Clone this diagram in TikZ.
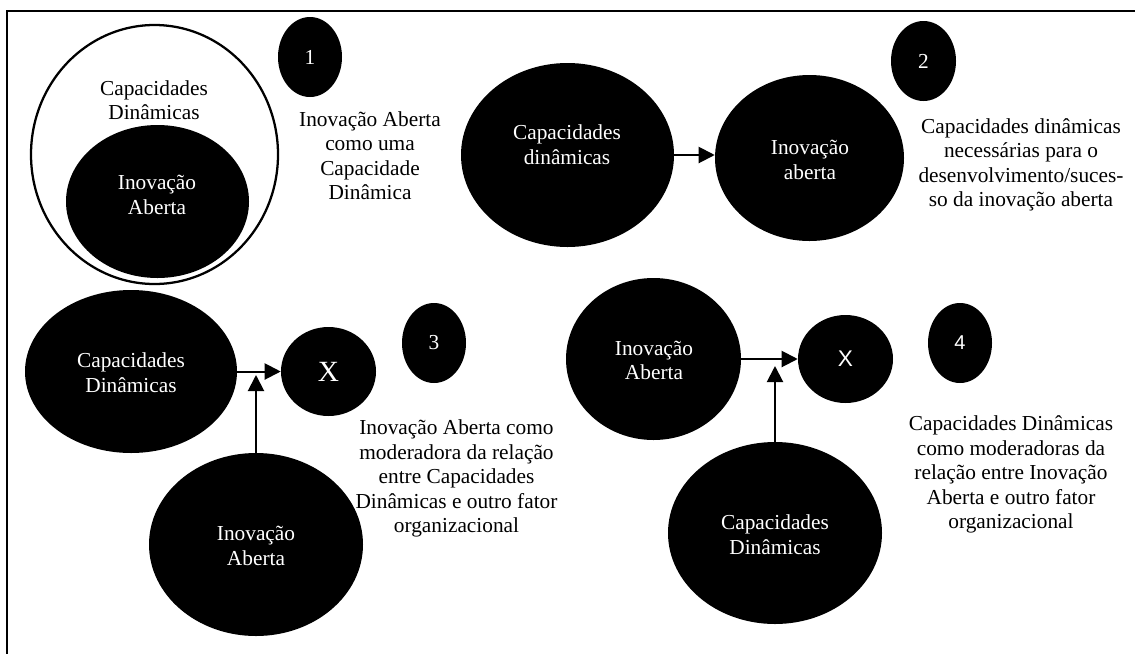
\documentclass[tikz,border=0pt]{standalone}
\usepackage{fontspec}
\setmainfont{Liberation Serif}
\newfontfamily\arialf{Liberation Sans}
\usetikzlibrary{shapes.geometric,arrows.meta}
\begin{document}
\begin{tikzpicture}[x=0.75pt,y=-0.75pt,
  blob/.style={ellipse,fill=black,draw=none,inner sep=0pt},
  wtxt/.style={text=white,align=center,inner sep=0pt,font=\fontsize{16}{18.6}\selectfont},
  btxt/.style={text=black,align=center,inner sep=0pt,font=\fontsize{16}{18.4}\selectfont},
  conn/.style={line width=1.5pt,-{Triangle[length=12pt,width=12pt]}}
]
\useasboundingbox (0,0) rectangle (1135,654);
\fill[white] (0,0) rectangle (1135,654);
% frame
\coordinate (fr1) at (1135,11);
\coordinate (fr2) at (7,11);
\coordinate (fr3) at (7,654);
\draw[line width=0.9pt] (fr1) -- (fr2) -- (fr3);

% ---------- 1 ----------
\node[ellipse,draw=black,fill=white,line width=1.7pt,minimum width=185.25pt,minimum height=194.25pt] (outer1) at (154.5,154.5) {};
\node[btxt] (lcd1) at (154,100) {Capacidades\\Dinâmicas};
\node[blob,minimum width=137.25pt,minimum height=114.75pt] (ia1) at (157.5,201.5) {};
\node[wtxt] (lia1) at (157,195) {Inovação\\Aberta};
\node[blob,minimum width=48pt,minimum height=60pt] (b1) at (310,57) {};
\node[wtxt] (n1) at (310,57) {1};
\node[btxt] (t1) at (370,155.5) {Inovação Aberta\\como uma\\Capacidade\\Dinâmica};

% ---------- 2 ----------
\node[blob,minimum width=159.75pt,minimum height=138pt] (cd2) at (567.5,155) {};
\node[wtxt] (lcd2) at (567,145) {Capacidades\\dinâmicas};
\node[blob,minimum width=141.75pt,minimum height=124.5pt] (ia2) at (809.5,158) {};
\node[wtxt] (lia2) at (810,160) {Inovação\\aberta};
\draw[conn] (cd2.east) -- (cd2.east -| ia2.west);
\node[blob,minimum width=48.75pt,minimum height=60pt] (b2) at (923.5,61) {};
\node[wtxt] (n2) at (923.5,61) {2};
\node[btxt] (t2) at (1021,165) {Capacidades dinâmicas\\necessárias para o\\desenvolvimento/suces-\\so da inovação aberta};

% ---------- 3 ----------
\node[blob,minimum width=159pt,minimum height=122.25pt] (cd3) at (131,371.5) {};
\node[wtxt] (lcd3) at (131,372.5) {Capacidades\\Dinâmicas};
\node[blob,minimum width=71.25pt,minimum height=66.75pt] (x3) at (328.5,371.5) {};
\node[wtxt,font=\fontsize{22}{24}\selectfont] (lx3) at (328.5,371.5) {X};
\node[blob,minimum width=160.5pt,minimum height=137.25pt] (ia3) at (256,544.5) {};
\node[wtxt] (lia3) at (256,546) {Inovação\\Aberta};
\coordinate (j3) at (256,375);
\draw[conn] (cd3.east) -- (x3.west);
\draw[conn] (ia3.north) -- (j3);
\node[blob,minimum width=48pt,minimum height=60pt] (b3) at (434,343) {};
\node[wtxt] (n3) at (434,343) {3};
\node[btxt] (t3) at (456.5,478.5) {Inovação Aberta como\\moderadora da relação\\entre Capacidades\\Dinâmicas e outro fator\\organizacional};

% ---------- 4 ----------
\node[blob,minimum width=131.25pt,minimum height=121.5pt] (ia4) at (653.5,359) {};
\node[wtxt] (lia4) at (654,360.5) {Inovação\\Aberta};
\node[blob,minimum width=71.25pt,minimum height=66pt] (x4) at (845.5,359) {};
\node[wtxt,font=\arialf\fontsize{17}{20}\selectfont] (lx4) at (845.5,359) {X};
\node[blob,minimum width=160.5pt,minimum height=136.5pt] (cd4) at (775,533) {};
\node[wtxt] (lcd4) at (775,534.5) {Capacidades\\Dinâmicas};
\coordinate (j4) at (775,366);
\draw[conn] (ia4.east) -- (x4.west);
\draw[conn] (cd4.north) -- (j4);
\node[blob,minimum width=48pt,minimum height=60pt] (b4) at (960,343) {};
\node[wtxt,font=\arialf\fontsize{15}{18}\selectfont] (n4) at (960,343) {4};
\node[btxt] (t4) at (1011,474.5) {Capacidades Dinâmicas\\como moderadoras da\\relação entre Inovação\\Aberta e outro fator\\organizacional};
\end{tikzpicture}
\end{document}
